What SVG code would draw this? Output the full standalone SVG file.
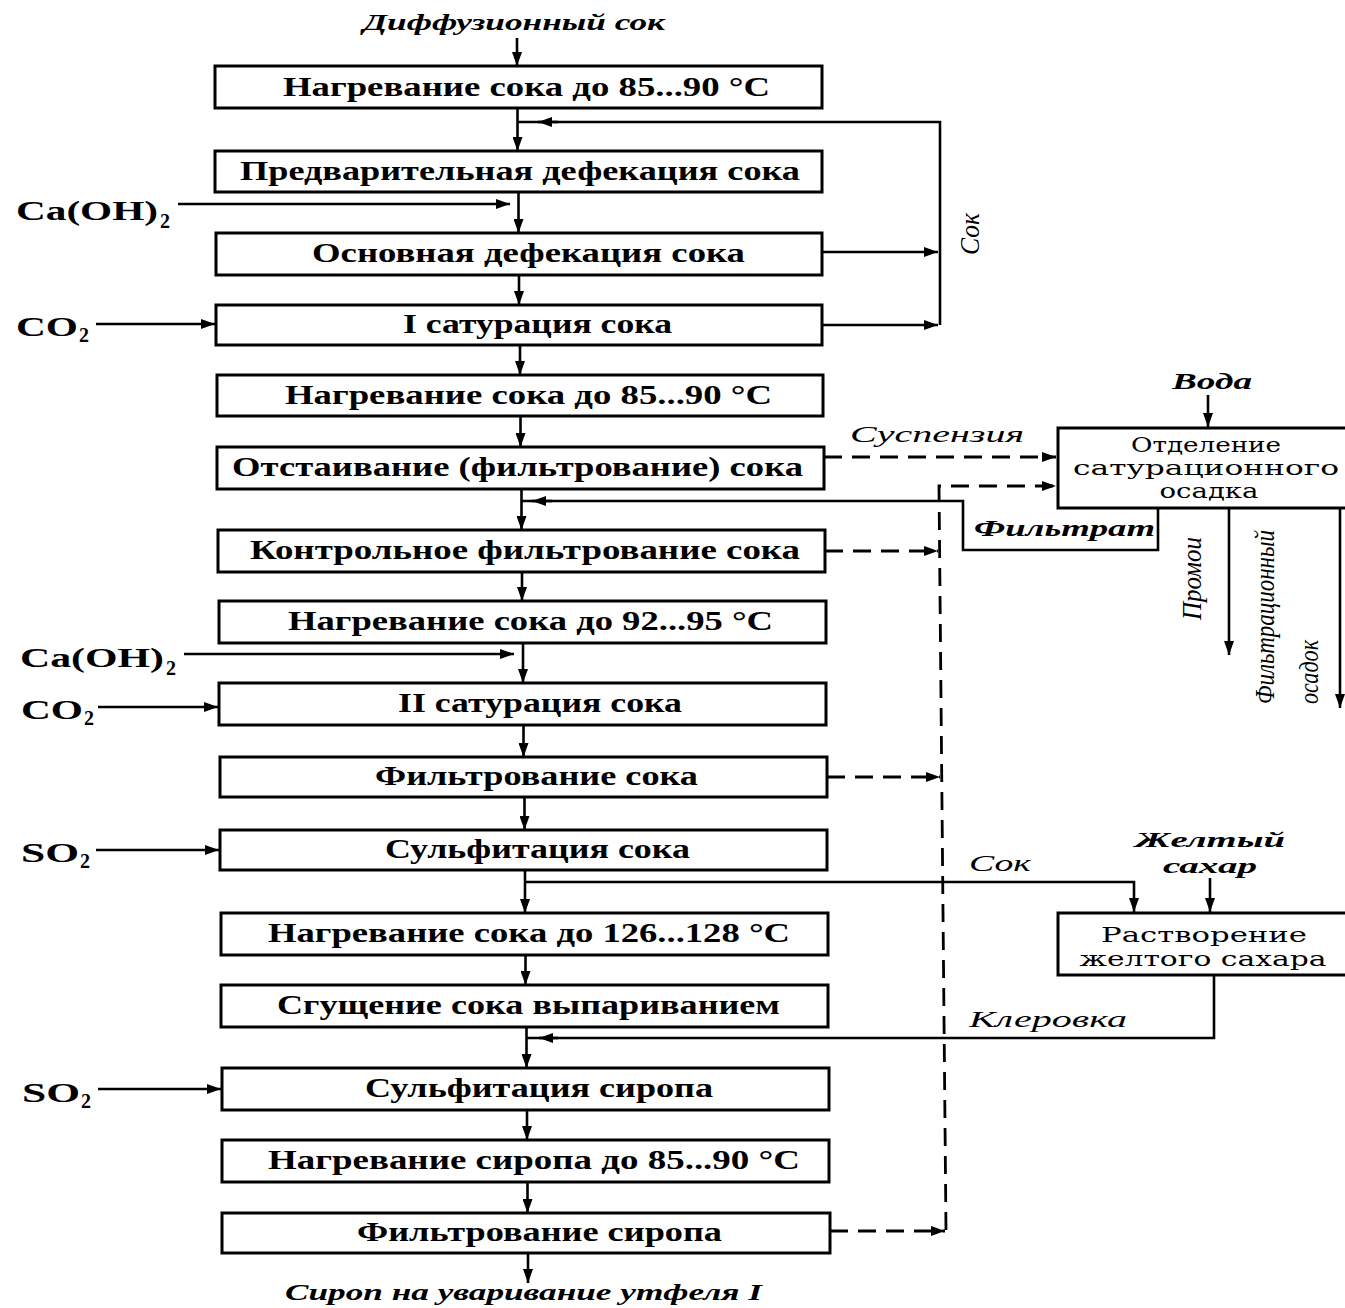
<svg xmlns="http://www.w3.org/2000/svg" width="1345" height="1308" viewBox="0 0 1345 1308">
<defs>
<marker id="ah" viewBox="0 0 14 10" refX="14" refY="5" markerWidth="14" markerHeight="10" markerUnits="userSpaceOnUse" orient="auto">
<path d="M0,0 L14,5 L0,10 z" fill="#000"/>
</marker>
<style>
.box{fill:#fff;stroke:#000;stroke-width:3}
.bt{font-family:"Liberation Serif","DejaVu Serif",serif;font-size:28px;font-weight:bold;fill:#000}
.rt{font-family:"DejaVu Serif","Liberation Serif",serif;font-size:21px;fill:#000}
.in{font-family:"Liberation Serif","DejaVu Serif",serif;font-size:28px;font-weight:bold;fill:#000}
.sub{font-family:"Liberation Serif","DejaVu Serif",serif;font-size:20px;font-weight:bold;fill:#000}
.it{font-family:"Liberation Serif","DejaVu Serif",serif;font-size:24px;font-style:italic;font-weight:bold;fill:#000}
.iy{font-family:"Liberation Serif","DejaVu Serif",serif;font-size:20px;font-style:italic;font-weight:bold;fill:#000}
.il{font-family:"Liberation Serif","DejaVu Serif",serif;font-size:24px;font-style:italic;fill:#000}
.iv{font-family:"Liberation Serif","DejaVu Serif",serif;font-size:28px;font-style:italic;fill:#000}
.ln{fill:none;stroke:#000;stroke-width:2.6}
.ar{fill:none;stroke:#000;stroke-width:2.6;marker-end:url(#ah)}
.da{fill:none;stroke:#000;stroke-width:2.8;stroke-dasharray:18 10;marker-end:url(#ah)}
</style>
</defs>
<rect width="1345" height="1308" fill="#fff"/>

<g id="connectors">
<path class="ar" d="M517,38 V66"/>
<path class="ar" d="M517.5,108 V151"/>
<path class="ar" d="M518.5,192 V233"/>
<path class="ar" d="M519,275 V305"/>
<path class="ar" d="M520,345 V375"/>
<path class="ar" d="M520.5,416 V447"/>
<path class="ar" d="M521.5,489 V530"/>
<path class="ar" d="M522,572 V601"/>
<path class="ar" d="M523,643 V683"/>
<path class="ar" d="M523.5,725 V757"/>
<path class="ar" d="M524.5,797 V830"/>
<path class="ar" d="M525,870 V913"/>
<path class="ar" d="M525.5,955 V985"/>
<path class="ar" d="M526.5,1027 V1068"/>
<path class="ar" d="M527,1110 V1140"/>
<path class="ar" d="M527.5,1182 V1213"/>
<path class="ar" d="M528,1253 V1283"/>
<path class="ar" d="M178,204 H510"/>
<path class="ar" d="M96,324 H215"/>
<path class="ar" d="M184,654 H514"/>
<path class="ar" d="M98,707 H218"/>
<path class="ar" d="M96,850 H219"/>
<path class="ar" d="M98,1089 H221"/>
<path class="ln" d="M940,325 V122 H517"/>
<path class="ar" d="M558,122 H538"/>
<path class="ar" d="M822,252 H938"/>
<path class="ar" d="M822,325 H938"/>
<path class="da" d="M824,457 H1056"/>
<path class="da" d="M946,1230 L939,486 H1056"/>
<path class="da" d="M825,551 H938"/>
<path class="da" d="M827,777 H940"/>
<path class="da" d="M830,1231 H945"/>
<path class="ln" d="M1158,508 V550 H963 V501 H521"/>
<path class="ar" d="M552,501 H532"/>
<path class="ar" d="M1208,395 V427"/>
<path class="ar" d="M1229,508 V655"/>
<path class="ar" d="M1340,508 V708"/>
<path class="ar" d="M525,882 H1134 V912"/>
<path class="ar" d="M1210,878 V912"/>
<path class="ln" d="M1214,975 V1038 H526"/>
<path class="ar" d="M558,1038 H539"/>
</g>

<g id="label-top"><text class="it" x="363" y="30" textLength="302" lengthAdjust="spacingAndGlyphs">Диффузионный сок</text></g>

<g id="n1"><rect class="box" x="215" y="66" width="607" height="42"/><text class="bt" x="283" y="96" textLength="487" lengthAdjust="spacingAndGlyphs">Нагревание сока до 85...90 °С</text></g>
<g id="n2"><rect class="box" x="215" y="151" width="607" height="41"/><text class="bt" x="240" y="180" textLength="560" lengthAdjust="spacingAndGlyphs">Предварительная дефекация сока</text></g>
<g id="n3"><rect class="box" x="216" y="233" width="606" height="42"/><text class="bt" x="312" y="262" textLength="433" lengthAdjust="spacingAndGlyphs">Основная дефекация сока</text></g>
<g id="n4"><rect class="box" x="216" y="305" width="606" height="40"/><text class="bt" x="403" y="333" textLength="269" lengthAdjust="spacingAndGlyphs">I сатурация сока</text></g>
<g id="n5"><rect class="box" x="217" y="375" width="606" height="41"/><text class="bt" x="285" y="404" textLength="487" lengthAdjust="spacingAndGlyphs">Нагревание сока до 85...90 °С</text></g>
<g id="n6"><rect class="box" x="217" y="447" width="607" height="42"/><text class="bt" x="232" y="476" textLength="571" lengthAdjust="spacingAndGlyphs">Отстаивание (фильтрование) сока</text></g>
<g id="n7"><rect class="box" x="218" y="530" width="607" height="42"/><text class="bt" x="250" y="559" textLength="550" lengthAdjust="spacingAndGlyphs">Контрольное фильтрование сока</text></g>
<g id="n8"><rect class="box" x="219" y="601" width="607" height="42"/><text class="bt" x="288" y="630" textLength="485" lengthAdjust="spacingAndGlyphs">Нагревание сока до 92...95 °С</text></g>
<g id="n9"><rect class="box" x="219" y="683" width="607" height="42"/><text class="bt" x="398" y="712" textLength="284" lengthAdjust="spacingAndGlyphs">II сатурация сока</text></g>
<g id="n10"><rect class="box" x="220" y="757" width="607" height="40"/><text class="bt" x="375" y="785" textLength="323" lengthAdjust="spacingAndGlyphs">Фильтрование сока</text></g>
<g id="n11"><rect class="box" x="220" y="830" width="607" height="40"/><text class="bt" x="385" y="858" textLength="305" lengthAdjust="spacingAndGlyphs">Сульфитация сока</text></g>
<g id="n12"><rect class="box" x="221" y="913" width="607" height="42"/><text class="bt" x="268" y="942" textLength="522" lengthAdjust="spacingAndGlyphs">Нагревание сока до 126...128 °С</text></g>
<g id="n13"><rect class="box" x="221" y="985" width="607" height="42"/><text class="bt" x="277" y="1014" textLength="503" lengthAdjust="spacingAndGlyphs">Сгущение сока выпариванием</text></g>
<g id="n14"><rect class="box" x="222" y="1068" width="607" height="42"/><text class="bt" x="365" y="1097" textLength="348" lengthAdjust="spacingAndGlyphs">Сульфитация сиропа</text></g>
<g id="n15"><rect class="box" x="222" y="1140" width="607" height="42"/><text class="bt" x="268" y="1169" textLength="532" lengthAdjust="spacingAndGlyphs">Нагревание сиропа до 85...90 °С</text></g>
<g id="n16"><rect class="box" x="222" y="1213" width="608" height="40"/><text class="bt" x="357" y="1241" textLength="365" lengthAdjust="spacingAndGlyphs">Фильтрование сиропа</text></g>

<g id="label-bottom"><text class="it" x="285" y="1300" textLength="477" lengthAdjust="spacingAndGlyphs">Сироп на уваривание утфеля I</text></g>

<g id="in-caoh-1"><text class="in" x="16" y="220" textLength="142" lengthAdjust="spacingAndGlyphs">Ca(OH)</text><text class="sub" x="160" y="228">2</text></g>
<g id="in-co2-1"><text class="in" x="16" y="336" textLength="62" lengthAdjust="spacingAndGlyphs">CO</text><text class="sub" x="79" y="342">2</text></g>
<g id="in-caoh-2"><text class="in" x="20" y="667" textLength="144" lengthAdjust="spacingAndGlyphs">Ca(OH)</text><text class="sub" x="166" y="675">2</text></g>
<g id="in-co2-2"><text class="in" x="21" y="719" textLength="62" lengthAdjust="spacingAndGlyphs">CO</text><text class="sub" x="84" y="725">2</text></g>
<g id="in-so2-1"><text class="in" x="21" y="862" textLength="58" lengthAdjust="spacingAndGlyphs">SO</text><text class="sub" x="80" y="868">2</text></g>
<g id="in-so2-2"><text class="in" x="22" y="1102" textLength="58" lengthAdjust="spacingAndGlyphs">SO</text><text class="sub" x="81" y="1108">2</text></g>

<g id="label-sok-loop"><text class="iv" transform="translate(979,255) rotate(-90)" textLength="42" lengthAdjust="spacingAndGlyphs">Сок</text></g>

<g id="n-separation"><rect class="box" x="1058" y="428" width="300" height="80"/>
<text class="rt" x="1206" y="452" text-anchor="middle" textLength="150" lengthAdjust="spacingAndGlyphs">Отделение</text>
<text class="rt" x="1206" y="475" text-anchor="middle" textLength="266" lengthAdjust="spacingAndGlyphs">сатурационного</text>
<text class="rt" x="1209" y="498" text-anchor="middle" textLength="99" lengthAdjust="spacingAndGlyphs">осадка</text></g>
<g id="label-voda"><text class="it" x="1172" y="389" textLength="80" lengthAdjust="spacingAndGlyphs">Вода</text></g>
<g id="label-susp"><text class="il" x="850" y="442" textLength="174" lengthAdjust="spacingAndGlyphs">Суспензия</text></g>
<g id="label-filtrat"><text class="it" x="974" y="536" textLength="181" lengthAdjust="spacingAndGlyphs">Фильтрат</text></g>
<g id="label-promoi"><text class="iv" transform="translate(1201,620) rotate(-90)" textLength="83" lengthAdjust="spacingAndGlyphs">Промои</text></g>
<g id="label-osadok"><text class="iv" transform="translate(1274,704) rotate(-90)" textLength="174" lengthAdjust="spacingAndGlyphs">Фильтрационный</text><text class="iv" transform="translate(1318,704) rotate(-90)" textLength="64" lengthAdjust="spacingAndGlyphs">осадок</text></g>

<g id="n-dissolve"><rect class="box" x="1058" y="913" width="300" height="62"/>
<text class="rt" x="1204" y="942" text-anchor="middle" textLength="206" lengthAdjust="spacingAndGlyphs">Растворение</text>
<text class="rt" x="1203" y="966" text-anchor="middle" textLength="247" lengthAdjust="spacingAndGlyphs">желтого сахара</text></g>
<g id="label-sok2"><text class="il" x="969" y="871" textLength="62" lengthAdjust="spacingAndGlyphs">Сок</text></g>
<g id="label-yellow"><text class="iy" x="1135" y="847" textLength="150" lengthAdjust="spacingAndGlyphs">Желтый</text><text class="iy" x="1163" y="873" textLength="94" lengthAdjust="spacingAndGlyphs">сахар</text></g>
<g id="label-klerovka"><text class="il" x="969" y="1027" textLength="158" lengthAdjust="spacingAndGlyphs">Клеровка</text></g>
</svg>
